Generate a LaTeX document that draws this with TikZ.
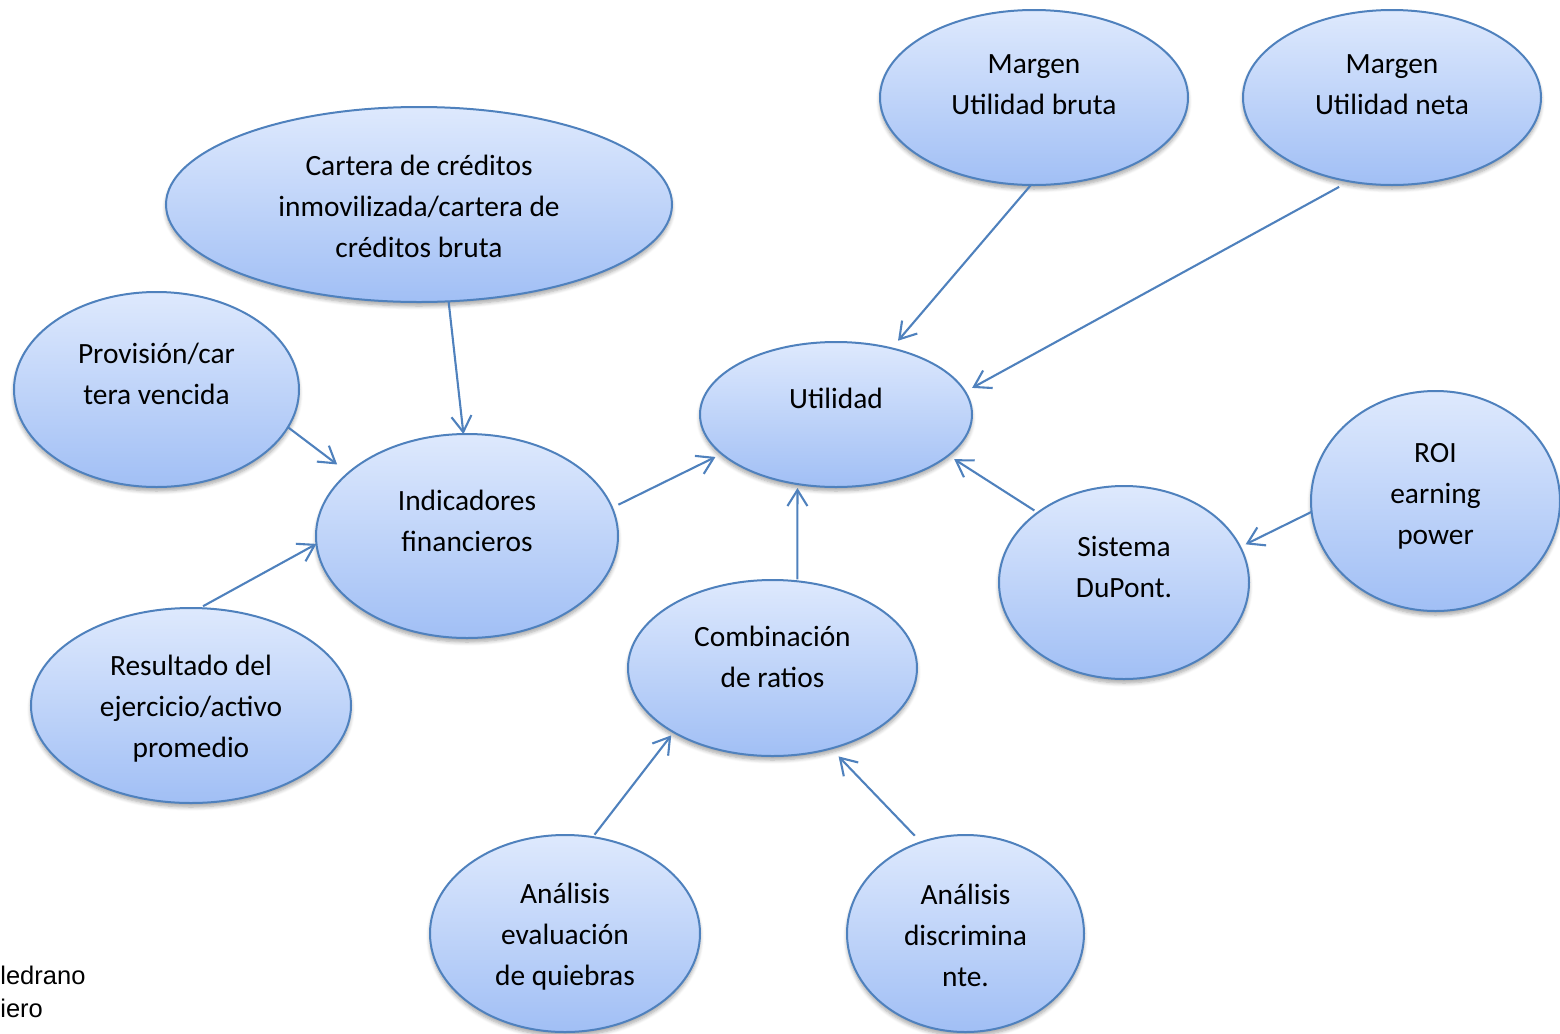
\documentclass[tikz,border=0pt]{standalone}
\usepackage{fontspec}
\setmainfont{Carlito}
\newfontfamily\arialf{Liberation Sans}
\usetikzlibrary{arrows.meta,shapes.geometric,shadows.blur}
\definecolor{bdr}{RGB}{79,129,189}
\definecolor{ftop}{RGB}{222,233,253}
\definecolor{fbot}{RGB}{161,191,245}
\begin{document}
\begin{tikzpicture}[x=0.5pt,y=-0.5pt,
  bub/.style={ellipse, draw=bdr, line width=1pt, top color=ftop, bottom color=fbot,
    inner sep=0pt, outer sep=0pt,
    blur shadow={shadow xshift=0pt, shadow yshift=-2pt, shadow blur steps=6, shadow opacity=35}},
  txt/.style={align=center, font=\fontsize{14.7}{20.5}\selectfont, inner sep=0pt},
  con/.style={draw=bdr, line width=1.05pt, -{Straight Barb[length=8pt,width=10pt]}}]
\useasboundingbox (0,0) rectangle (1560,1034);

% bubbles
\node[bub, minimum width=253pt, minimum height=97.5pt] (car) at (419,204.5) {};
\node[bub, minimum width=154pt, minimum height=87.5pt] (mub) at (1034,97.5) {};
\node[bub, minimum width=149pt, minimum height=87.5pt] (mun) at (1392,97.5) {};
\node[bub, minimum width=142.5pt, minimum height=97.5pt] (pro) at (156.5,389.5) {};
\node[bub, minimum width=151pt, minimum height=102pt] (ind) at (467,536) {};
\node[bub, minimum width=136pt, minimum height=72.5pt] (uti) at (836,414.5) {};
\node[bub, minimum width=124.5pt, minimum height=110pt] (roi) at (1435.5,501) {};
\node[bub, minimum width=125pt, minimum height=96.5pt] (sis) at (1124,582.5) {};
\node[bub, minimum width=144.5pt, minimum height=88pt] (com) at (772.5,668) {};
\node[bub, minimum width=160pt, minimum height=97.5pt] (res) at (191,705.5) {};
\node[bub, minimum width=135pt, minimum height=98.5pt] (aev) at (565,933.5) {};
\node[bub, minimum width=118.5pt, minimum height=98.5pt] (adi) at (965.5,933.5) {};

% texts
\node[txt] (tcar) at (419,206) {Cartera de créditos\\inmovilizada/cartera de\\créditos bruta};
\node[txt] (tmub) at (1034,85) {Margen\\Utilidad bruta};
\node[txt] (tmun) at (1392,85) {Margen\\Utilidad neta};
\node[txt] (tpro) at (156.5,373.5) {Provisión/car\\tera vencida};
\node[txt] (tind) at (467,520.5) {Indicadores\\financieros};
\node[txt] (tuti) at (836,398) {Utilidad};
\node[txt] (troi) at (1435.5,496) {ROI\\earning\\power};
\node[txt] (tsis) at (1124,566.5) {Sistema\\DuPont.};
\node[txt] (tcom) at (772.5,656.5) {Combinación\\de ratios};
\node[txt] (tres) at (191,709) {Resultado del\\ejercicio/activo\\promedio};
\node[txt] (taev) at (565,937) {Análisis\\evaluación\\de quiebras};
\node[txt] (tadi) at (965.5,935) {Análisis\\discrimina\\nte.};

\node[anchor=west, align=left, inner sep=0pt, font=\arialf\fontsize{12.75}{16.5}\selectfont] (med) at (0,991.5) {ledrano\\iero};

% connectors
\draw[con] (car.287.6) -- (ind.92.2);
\draw[con, shorten >=7pt] (pro.344) -- (ind.152.4);
\draw[con, shorten <=2pt] (res.85.5) -- (ind.183);
\draw[con, shorten <=3.5pt, shorten >=3.5pt] (ind.11.5) -- (uti.199.7);
\draw[con, shorten >=5pt] (mub.268.7) -- (uti.50);
\draw[con, shorten <=5.8pt, shorten >=4pt] (mun.243.6) -- (uti.10.3);
\draw[con, shorten <=2pt, shorten >=3.5pt] (sis.141.8) -- (uti.340.3);
\draw[con, shorten >=3pt] (roi.185) -- (sis.17.6);
\draw[con, shorten <=1pt, shorten >=2pt] (com.74.6) -- (uti.241.9);
\draw[con, shorten <=1.5pt, shorten >=2pt] (aev.74.3) -- (com.213.4);
\draw[con, shorten <=4.5pt, shorten >=5.5pt] (adi.116.4) -- (com.306.4);
\end{tikzpicture}
\end{document}
